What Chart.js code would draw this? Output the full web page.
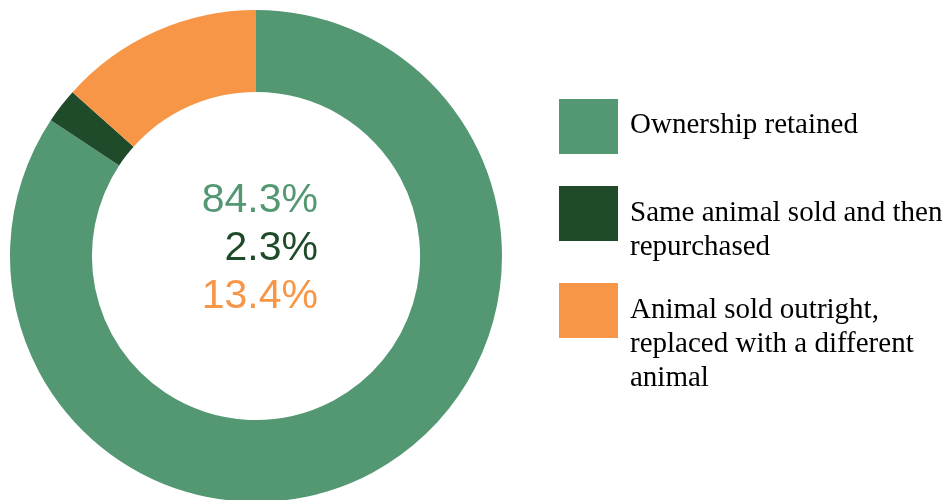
<!DOCTYPE html>
<html>
<head>
<meta charset="utf-8">
<script src="https://cdn.jsdelivr.net/npm/chart.js@4"></script>
<style>
  html, body { margin: 0; padding: 0; width: 951px; height: 500px; overflow: hidden; background: #fff; }
  #wrap { position: absolute; left: 0; top: 0; width: 512px; height: 512px; }
  #legend { position: absolute; left: 0; top: 0; width: 951px; height: 500px; pointer-events: none; }
  .box { position: absolute; left: 559px; width: 59px; height: 55px; }
  .lbl { position: absolute; left: 630px; width: 321px; font-family: "Liberation Serif", "Times New Roman", serif; font-size: 29px; line-height: 34px; color: #000; white-space: nowrap; }
</style>
</head>
<body>
<div id="wrap"><canvas id="c"></canvas></div>
<div id="legend"></div>
<script>
const categories = ["Ownership retained", "Same animal sold and then repurchased", "Animal sold outright, replaced with a different animal"];
const legendLines = [["Ownership retained"], ["Same animal sold and then", "repurchased"], ["Animal sold outright,", "replaced with a different", "animal"]];
const values = [84.3, 2.3, 13.4];
const centerLabels = ["84.3%", "2.3%", "13.4%"];
const colors = ["#539873", "#1f4b2a", "#f79646"];

const boxTops = [99, 186, 283];
const textTops = [106, 194, 291];
const legend = document.getElementById('legend');
categories.forEach((cat, i) => {
  const b = document.createElement('div');
  b.className = 'box';
  b.style.top = boxTops[i] + 'px';
  b.style.background = colors[i];
  legend.appendChild(b);
  const t = document.createElement('div');
  t.className = 'lbl';
  t.style.top = textTops[i] + 'px';
  t.innerHTML = legendLines[i].join('<br>');
  legend.appendChild(t);
});

const centerText = {
  id: 'centerText',
  afterDraw(chart) {
    const arc = chart.getDatasetMeta(0).data[0];
    const cx = arc.x, cy = arc.y;
    const ctx = chart.ctx;
    ctx.save();
    ctx.font = '41px "Liberation Sans", Arial, sans-serif';
    ctx.textAlign = 'right';
    ctx.textBaseline = 'alphabetic';
    centerLabels.forEach((s, i) => {
      ctx.fillStyle = colors[i];
      ctx.fillText(s, cx + 62, cy - 44 + i * 48);
    });
    ctx.restore();
  }
};

new Chart(document.getElementById('c'), {
  type: 'doughnut',
  data: {
    labels: categories,
    datasets: [{ data: values, backgroundColor: colors, borderWidth: 0, hoverOffset: 0 }]
  },
  options: {
    responsive: true,
    maintainAspectRatio: false,
    animation: false,
    cutout: '66.7%',
    layout: { padding: 10 },
    plugins: { legend: { display: false }, tooltip: { enabled: false } }
  },
  plugins: [centerText]
});
</script>
</body>
</html>
